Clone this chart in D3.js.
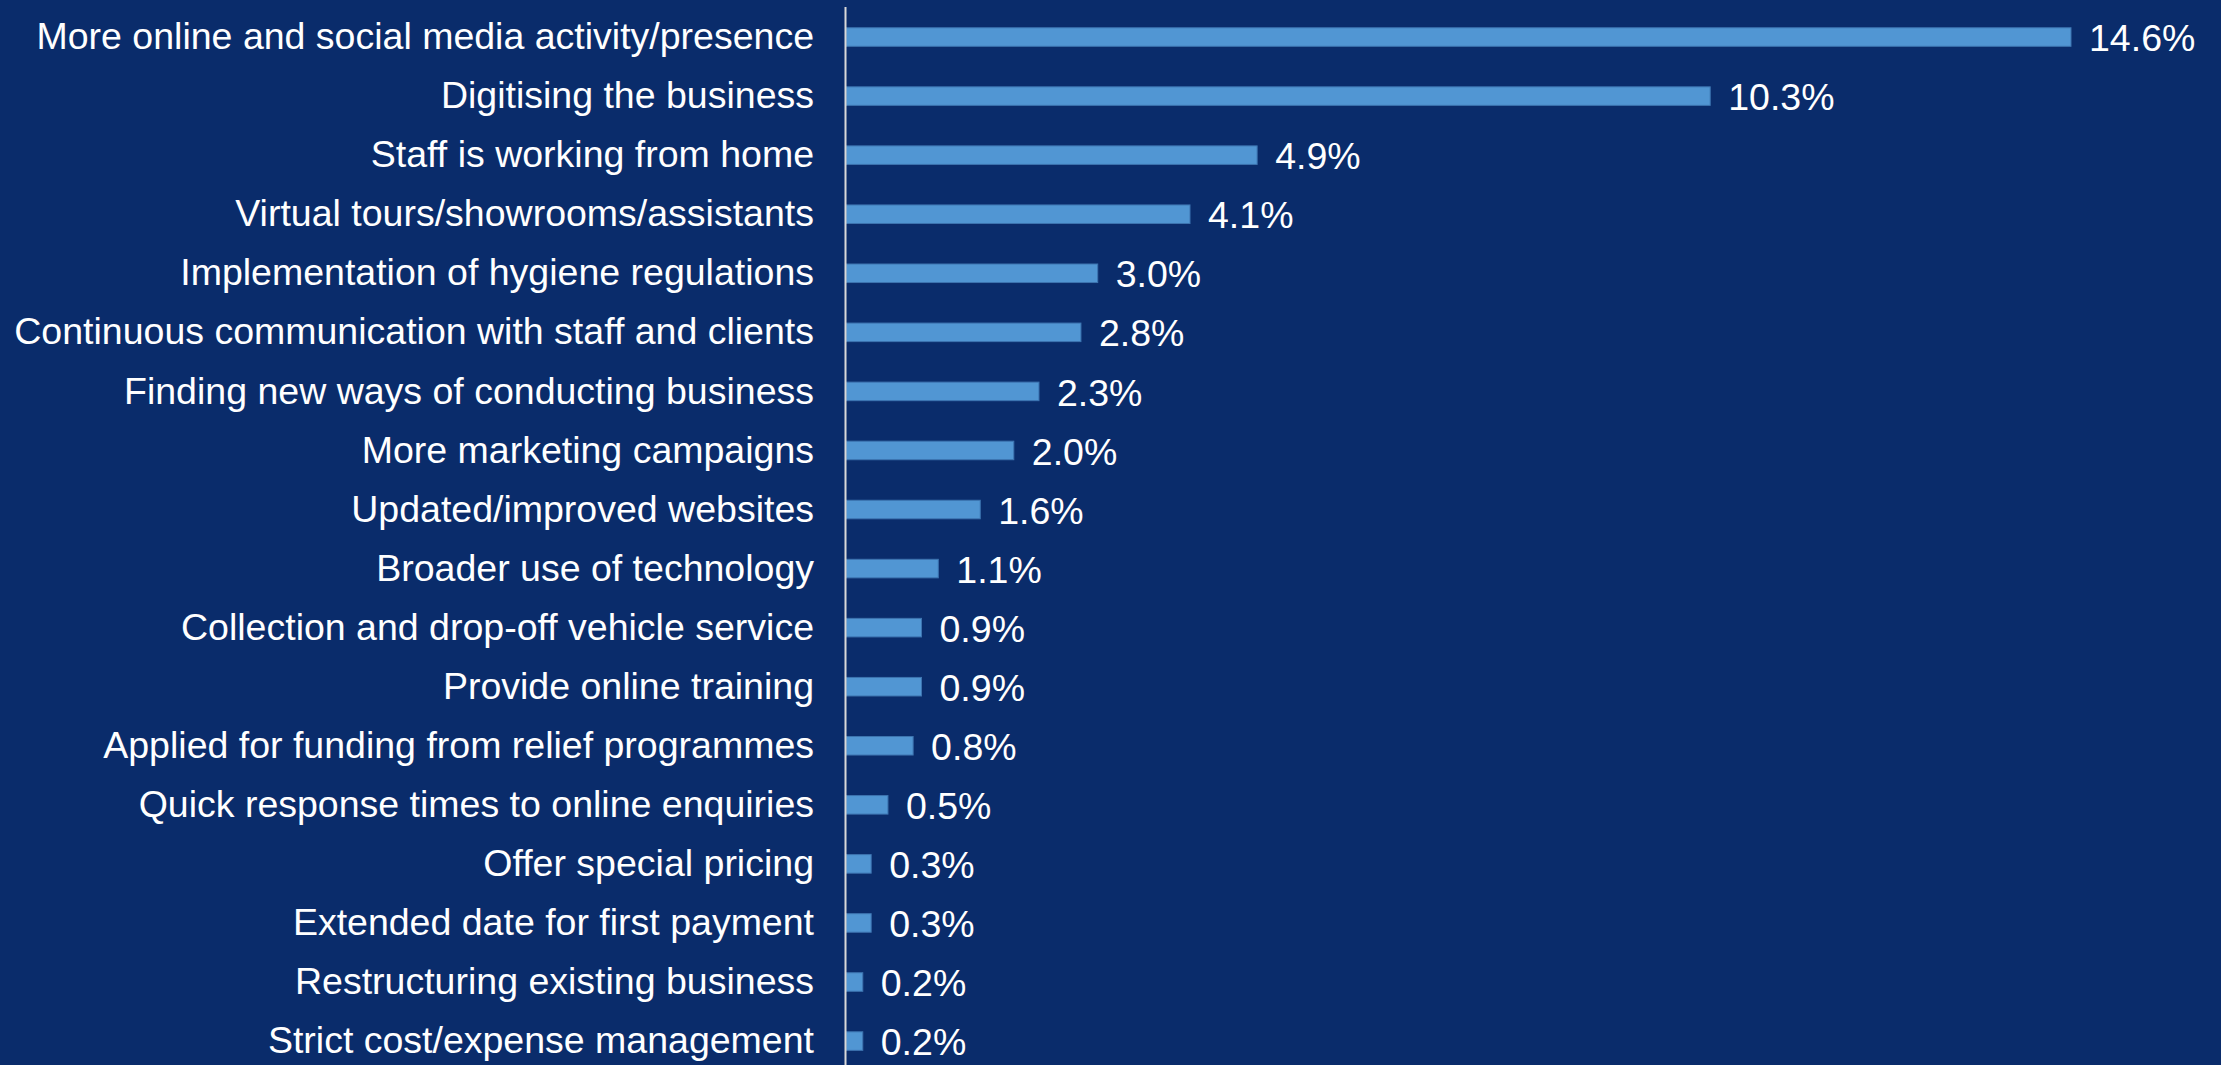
<!DOCTYPE html>
<html lang="en">
    <head>
        <meta charset="utf-8">
        <title>Business responses</title>
        <script type="text/javascript" src="https://d3js.org/d3.v7.min.js"></script>
        <style>
            body { margin: 0; background: #0a2c6b; }
            svg { display: block; }
            text { font-family: "Liberation Sans", Arial, sans-serif; }
        </style>
    </head>
    <body>
        <script>
            // data
            const categories = [
                "More online and social media activity/presence",
                "Digitising the business",
                "Staff is working from home",
                "Virtual tours/showrooms/assistants",
                "Implementation of hygiene regulations",
                "Continuous communication with staff and clients",
                "Finding new ways of conducting business",
                "More marketing campaigns",
                "Updated/improved websites",
                "Broader use of technology",
                "Collection and drop-off vehicle service",
                "Provide online training",
                "Applied for funding from relief programmes",
                "Quick response times to online enquiries",
                "Offer special pricing",
                "Extended date for first payment",
                "Restructuring existing business",
                "Strict cost/expense management"
            ];
            const values = [14.6, 10.3, 4.9, 4.1, 3.0, 2.8, 2.3, 2.0, 1.6, 1.1, 0.9, 0.9, 0.8, 0.5, 0.3, 0.3, 0.2, 0.2];

            const w = 2221;
            const h = 1065;
            const axisX = 846;

            const svg = d3.select("body")
                        .append("svg")
                        .attr("width", w)
                        .attr("height", h);

            svg.append("rect")
               .attr("width", w)
               .attr("height", h)
               .attr("fill", "#0a2c6b");

            const xScale = d3.scaleLinear()
                             .domain([0, 14.6])
                             .range([axisX, 2071]);

            const yScale = d3.scaleBand()
                             .domain(categories)
                             .range([7.5, 1070.6])
                             .paddingInner(0.686)
                             .paddingOuter(0.343);

            const rows = categories.map((c, i) => ({ cat: c, val: values[i] }));

            // bars
            svg.selectAll("rect.bar")
               .data(rows)
               .enter()
               .append("rect")
               .attr("class", "bar")
               .attr("x", xScale(0))
               .attr("y", d => yScale(d.cat))
               .attr("width", d => xScale(d.val) - xScale(0))
               .attr("height", yScale.bandwidth())
               .attr("fill", "#5196d3")
               .attr("stroke", "#3d74b0")
               .attr("stroke-width", 1);

            // category labels
            svg.selectAll("text.cat")
               .data(rows)
               .enter()
               .append("text")
               .attr("class", "cat")
               .text(d => d.cat)
               .attr("x", 814)
               .attr("y", d => yScale(d.cat) + yScale.bandwidth() / 2 - 1)
               .attr("dy", "0.35em")
               .attr("text-anchor", "end")
               .attr("font-size", "37.5px")
               .attr("fill", "#ffffff");

            // value labels
            svg.selectAll("text.val")
               .data(rows)
               .enter()
               .append("text")
               .attr("class", "val")
               .text(d => d.val.toFixed(1) + "%")
               .attr("x", d => xScale(d.val) + 18)
               .attr("y", d => yScale(d.cat) + yScale.bandwidth() / 2 + 1)
               .attr("dy", "0.35em")
               .attr("font-size", "37.5px")
               .attr("fill", "#ffffff");

            // vertical axis line
            svg.append("line")
               .attr("x1", axisX - 0.5)
               .attr("x2", axisX - 0.5)
               .attr("y1", 7)
               .attr("y2", h)
               .attr("stroke", "#d9d9d9")
               .attr("stroke-width", 2);
        </script>
    </body>
</html>
